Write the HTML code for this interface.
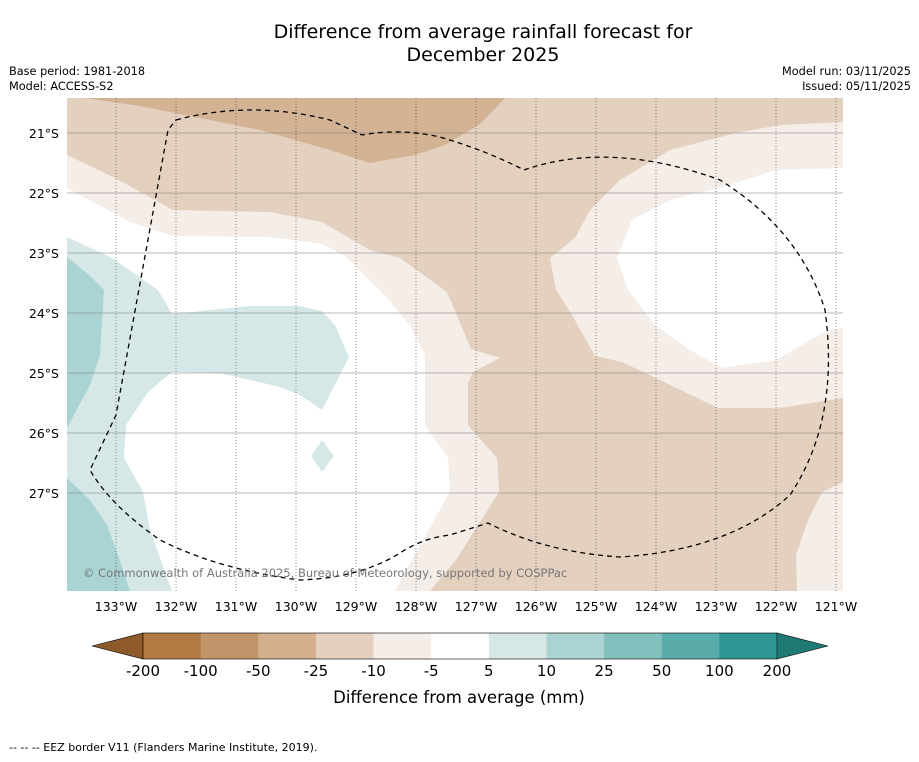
<!DOCTYPE html>
<html><head><meta charset="utf-8"><style>
body{margin:0;background:#fff;font-family:"DejaVu Sans","Liberation Sans",sans-serif}
svg text{font-family:"DejaVu Sans","Liberation Sans",sans-serif}
</style></head><body>
<svg id="c" width="919" height="758" viewBox="0 0 919 758" xmlns="http://www.w3.org/2000/svg">
<text x="483" y="38" font-size="19" text-anchor="middle">Difference from average rainfall forecast for</text>
<text x="483" y="61" font-size="19" text-anchor="middle">December 2025</text>
<text x="9" y="75" font-size="11.3">Base period: 1981-2018</text>
<text x="9" y="90" font-size="11.3">Model: ACCESS-S2</text>
<text x="911" y="75" font-size="11.3" text-anchor="end">Model run: 03/11/2025</text>
<text x="911" y="90" font-size="11.3" text-anchor="end">Issued: 05/11/2025</text>
<defs><clipPath id="mc"><rect x="67" y="98" width="776" height="493"/></clipPath></defs>
<g clip-path="url(#mc)">
<rect x="67" y="98" width="776" height="493" fill="#e3d0bf"/>
<polygon fill="#d4b294" points="85,98 505,98 480,124 445,145 415,155 370,163 330,150 260,130 200,118 140,106"/>
<polygon fill="#f4ede8" points="67,155 115,178 173,210 270,212 322,222 370,250 400,258 447,292 471,349 500,358 473,372 468,383 468,425 497,458 499,492 456,560 430,591 67,591"/>
<polygon fill="#f4ede8" points="843,122 780,125 736,133 670,150 620,180 590,210 575,238 550,258 556,290 572,315 595,356 622,362 660,380 718,408 780,408 843,398"/>
<polygon fill="#f4ede8" points="843,482 822,492 808,520 796,555 797,591 843,591"/>
<polygon fill="#fff" points="67,188 130,222 173,236 270,237 322,244 345,256 380,290 410,325 425,355 425,425 448,458 450,492 420,545 395,591 67,591"/>
<polygon fill="#fff" points="843,168 776,170 722,187 670,200 632,220 617,258 628,290 655,325 690,350 722,368 776,360 802,345 828,330 843,328"/>
<polygon fill="#d5e8e7" points="67,237 112,258 158,290 172,314 250,306 300,306 322,311 335,325 349,357 322,410 300,395 280,387 220,373 172,372 148,392 126,425 124,458 143,492 150,530 172,591 67,591"/>
<polygon fill="#d5e8e7" points="311,456 322,440 334,456 322,472"/>
<polygon fill="#aad4d4" points="67,257 90,276 104,290 100,355 90,385 67,428"/>
<polygon fill="#aad4d4" points="67,478 90,500 107,525 118,555 130,591 67,591"/>
<g id="grid"></g>
<path fill="none" stroke="#000" stroke-width="1.3" stroke-dasharray="5,4" d="M176,120 Q250,100 330,120 L362,135 Q400,128 440,137 Q485,150 524,170 Q610,140 720,180 Q800,230 825,310 Q840,420 790,495 Q730,550 620,557 Q545,552 488,523 L450,535 Q423,538 400,553 Q360,578 300,580 Q220,570 160,540 Q110,505 90,470 L116,415 L168,130 Z"/>
<text x="83" y="577" font-size="11.5" fill="#777">© Commonwealth of Australia 2025, Bureau of Meteorology, supported by COSPPac</text>
</g>
<g id="axes"></g>
<g id="cbar"></g>
<text x="459" y="703" font-size="16.5" text-anchor="middle">Difference from average (mm)</text>
<text x="9" y="751" font-size="11">--  --  -- EEZ border V11 (Flanders Marine Institute, 2019).</text>
</svg>
<script>
const lonTicks=[133,132,131,130,129,128,127,126,125,124,123,122,121];
const latTicks=[21,22,23,24,25,26,27];
const cbLevels=["-200","-100","-50","-25","-10","-5","5","10","25","50","100","200"];
const cbColors=["#b07a40","#c0956a","#d4b08e","#e3d0bf","#f4ede8","#ffffff","#d5e8e7","#aad4d4","#82c0be","#5aacab","#2f9793"];
const NS="http://www.w3.org/2000/svg";
function mk(t,a,p){const e=document.createElementNS(NS,t);for(const k in a)e.setAttribute(k,a[k]);p.appendChild(e);return e;}
const xLon=l=>116+(133-l)*60, yLat=l=>133+(l-21)*60;
const grid=document.getElementById('grid'),axes=document.getElementById('axes'),cb=document.getElementById('cbar');
lonTicks.forEach(l=>{
 const ln=mk('line',{x1:xLon(l),x2:xLon(l),y1:98,y2:591,stroke:'#444','stroke-width':0.6,'stroke-dasharray':'1,2'},grid);
 
 
 const t=mk('text',{x:xLon(l),y:611,'font-size':12.5,'text-anchor':'middle'},axes);t.textContent=l+'°W';
 
 
});
latTicks.forEach(l=>{
 const ln=mk('line',{x1:67,x2:843,y1:yLat(l),y2:yLat(l),stroke:'#777','stroke-width':0.6},grid);
 
 
 const t=mk('text',{x:59,y:yLat(l)+5,'font-size':12.5,'text-anchor':'end'},axes);t.textContent=l+'°S';
 
 
});
const x0=143,x1=777,n=cbColors.length,w=(x1-x0)/n,y0=633,h=26;
const lt=mk('polygon',{points:`92,${y0+h/2} ${x0},${y0} ${x0},${y0+h}`,fill:'#8f5a2a',stroke:'#000','stroke-width':0.6},cb);


const rt=mk('polygon',{points:`828,${y0+h/2} ${x1},${y0} ${x1},${y0+h}`,fill:'#1f7a76',stroke:'#000','stroke-width':0.6},cb);


cbColors.forEach((c,i)=>{
 const r=mk('rect',{x:x0+i*w,y:y0,width:w+0.5,height:h,fill:c},cb);
 
 
});
mk('rect',{x:x0,y:y0,width:x1-x0,height:h,fill:'none',stroke:'#000','stroke-width':0.6},cb);
cbLevels.forEach((v,i)=>{
 const t=mk('text',{x:x0+i*w,y:676,'font-size':15,'text-anchor':'middle'},cb);t.textContent=v;
 
 
});
</script>
</body></html>
